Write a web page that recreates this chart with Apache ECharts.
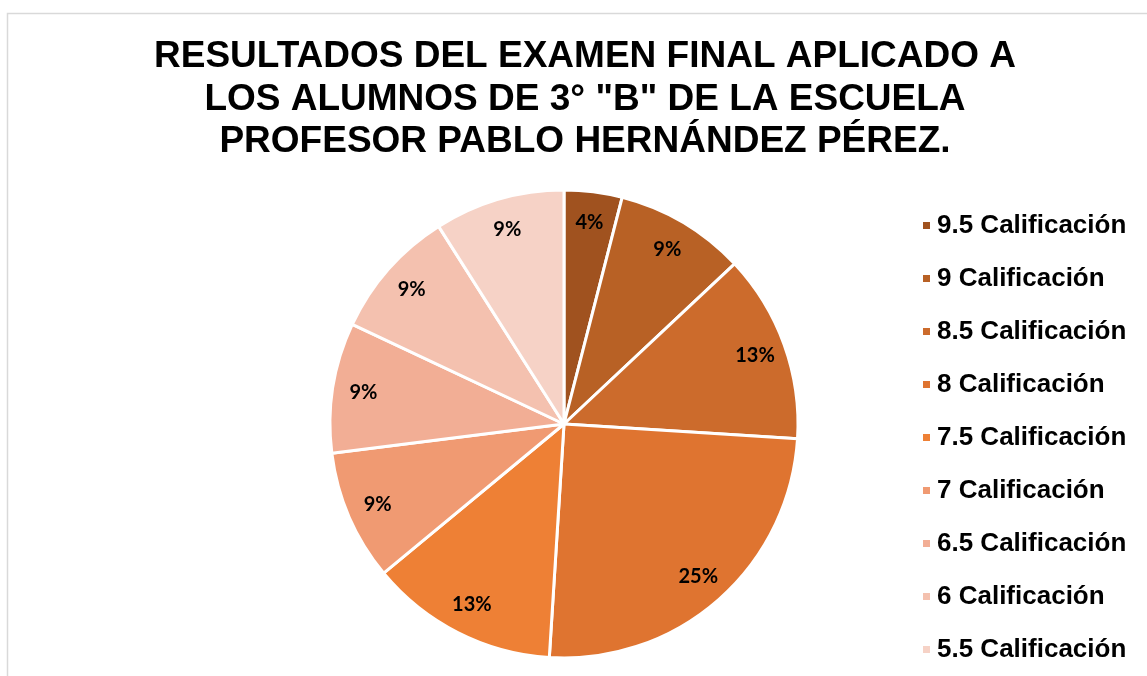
<!DOCTYPE html>
<html>
<head>
<meta charset="utf-8">
<script src="https://cdn.jsdelivr.net/npm/echarts@6/dist/echarts.min.js"></script>
<style>html,body{margin:0;padding:0;background:#fff}#c{width:1147px;height:676px}</style>
</head>
<body>
<div id="c"></div>
<script>
const titleText = 'RESULTADOS DEL EXAMEN FINAL APLICADO A\nLOS ALUMNOS DE 3° "B" DE LA ESCUELA\nPROFESOR PABLO HERNÁNDEZ PÉREZ.';
const categories = ['9.5 Calificación','9 Calificación','8.5 Calificación','8 Calificación','7.5 Calificación','7 Calificación','6.5 Calificación','6 Calificación','5.5 Calificación'];
const percentages = [4, 9, 13, 25, 13, 9, 9, 9, 9];
const colors = ['#A0521F','#B86125','#CC6B2C','#DF7430','#EE8035','#F09A72','#F2AE95','#F4C1AF','#F6D2C6'];

const chart = echarts.init(document.getElementById('c'));
const mainData = categories.map((n, i) => ({ name: n, value: percentages[i], itemStyle: { color: colors[i] } }));
const labelData = categories.map((n, i) => ({ name: n, value: percentages[i] }));
chart.setOption({
  animation: false,
  backgroundColor: '#fff',
  graphic: [{
    type: 'rect', shape: { x: 7.5, y: 13.5, width: 1200, height: 700 },
    style: { fill: 'none', stroke: '#d9d9d9', lineWidth: 1.5 }, silent: true, z: -10
  }],
  title: {
    text: titleText, left: 580, top: 31, textAlign: 'center',
    textStyle: { fontFamily: 'Liberation Sans, Arial', fontWeight: 'bold', fontSize: 37, lineHeight: 42.5, color: '#000' }
  },
  legend: {
    orient: 'vertical', left: 916, top: 207, itemWidth: 9, itemHeight: 9, itemGap: 26,
    icon: 'rect', data: categories,
    textStyle: { fontFamily: 'Liberation Sans, Arial', fontWeight: 'bold', fontSize: 26, lineHeight: 27, color: '#000', padding: [0,0,0,1] }
  },
  series: [{
    type: 'pie', center: [564, 424], radius: [0, 234], startAngle: 90, clockwise: true,
    label: { show: false }, labelLine: { show: false }, silent: true,
    itemStyle: { borderColor: '#fff', borderWidth: 3 },
    data: mainData
  }, {
    type: 'pie', center: [564, 424], radius: [166, 234], startAngle: 90, clockwise: true,
    silent: true, legendHoverLink: false,
    itemStyle: { color: 'rgba(0,0,0,0)', borderWidth: 0 },
    label: { show: true, position: 'inside', formatter: p => p.value + '%', fontFamily: 'Lato, Open Sans, sans-serif', fontWeight: 'bold', fontSize: 20, color: '#000' },
    labelLine: { show: false },
    data: labelData
  }]
});
</script>
</body>
</html>
